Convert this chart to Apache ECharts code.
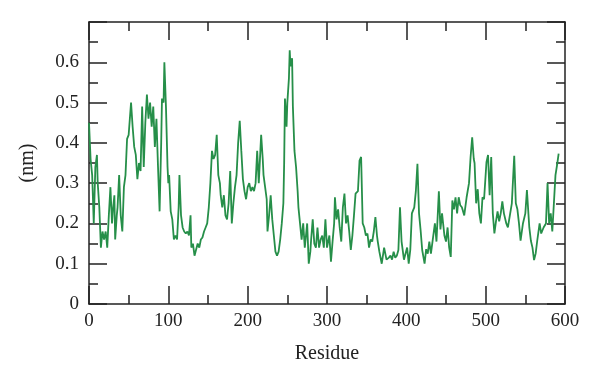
<!DOCTYPE html>
<html>
<head>
<meta charset="utf-8">
<script src="https://cdn.jsdelivr.net/npm/echarts@6/dist/echarts.min.js"></script>
<style>html,body{margin:0;padding:0;background:#fff}#c{width:600px;height:380px}</style>
</head>
<body>
<div id="c"></div>
<script>
const residues = [0,2,4,6,8,10,11,13,15,17,19,21,23,25,27,29,30,32,33,35,36,38,40,42,44,46,48,50,53,55,57,59,61,63,65,67,69,71,73,75,77,79,81,83,85,87,89,91,92,94,95,97,99,100,101,103,105,107,109,111,113,114,116,118,120,122,124,126,128,129,131,133,135,137,139,141,143,145,147,149,151,153,155,157,159,161,163,165,166,168,170,172,174,176,178,180,182,184,186,188,190,192,194,196,198,200,202,204,206,208,210,212,214,216,217,219,220,222,224,225,227,229,231,233,235,237,239,241,243,245,246,247,249,250,252,253,254,256,257,259,261,263,264,266,268,270,272,274,275,277,279,280,282,284,286,288,290,292,294,296,298,300,301,303,305,307,309,310,312,314,316,318,320,322,324,326,328,330,332,334,336,338,339,341,343,345,347,349,351,353,355,357,359,361,363,364,366,369,372,375,378,380,382,384,386,388,390,392,394,397,399,401,403,405,407,410,412,414,416,418,420,423,425,427,429,431,433,436,438,441,443,445,448,450,452,454,456,458,460,462,464,466,468,470,473,476,479,481,483,485,486,488,490,492,494,496,498,501,503,505,507,509,511,513,515,517,519,521,523,526,528,530,533,536,538,540,542,544,547,550,552,555,557,559,561,563,565,568,570,573,576,578,580,582,584,586,588,590,592];
const rmsf = [0.45,0.36,0.32,0.20,0.34,0.37,0.30,0.24,0.14,0.18,0.16,0.18,0.14,0.22,0.29,0.20,0.23,0.27,0.16,0.22,0.24,0.32,0.22,0.18,0.29,0.32,0.41,0.42,0.50,0.44,0.39,0.37,0.31,0.35,0.33,0.49,0.34,0.45,0.52,0.46,0.50,0.44,0.49,0.39,0.46,0.34,0.23,0.40,0.51,0.50,0.60,0.49,0.34,0.30,0.32,0.23,0.21,0.16,0.17,0.16,0.24,0.32,0.22,0.19,0.18,0.175,0.18,0.17,0.22,0.14,0.15,0.12,0.12,0.15,0.14,0.16,0.165,0.18,0.19,0.20,0.24,0.30,0.38,0.36,0.37,0.42,0.32,0.30,0.27,0.24,0.27,0.22,0.21,0.25,0.33,0.20,0.25,0.29,0.32,0.40,0.455,0.38,0.31,0.28,0.26,0.29,0.30,0.28,0.29,0.28,0.30,0.38,0.30,0.38,0.42,0.36,0.32,0.29,0.26,0.18,0.22,0.27,0.21,0.17,0.13,0.12,0.13,0.16,0.20,0.25,0.35,0.51,0.44,0.50,0.56,0.63,0.59,0.61,0.49,0.38,0.34,0.28,0.24,0.20,0.16,0.20,0.14,0.18,0.20,0.10,0.13,0.16,0.21,0.15,0.14,0.19,0.14,0.16,0.17,0.14,0.21,0.14,0.15,0.17,0.105,0.155,0.20,0.265,0.21,0.235,0.19,0.155,0.24,0.274,0.20,0.22,0.18,0.134,0.17,0.22,0.274,0.27,0.28,0.356,0.365,0.20,0.19,0.17,0.175,0.14,0.16,0.155,0.18,0.216,0.17,0.155,0.13,0.10,0.14,0.11,0.115,0.12,0.11,0.13,0.115,0.12,0.134,0.24,0.155,0.11,0.11,0.14,0.10,0.135,0.225,0.24,0.28,0.348,0.225,0.183,0.134,0.10,0.136,0.125,0.155,0.125,0.155,0.20,0.155,0.28,0.185,0.225,0.17,0.155,0.19,0.14,0.117,0.257,0.235,0.265,0.225,0.265,0.245,0.24,0.22,0.265,0.30,0.365,0.414,0.36,0.35,0.25,0.285,0.225,0.20,0.265,0.26,0.352,0.37,0.27,0.365,0.225,0.175,0.205,0.23,0.205,0.225,0.255,0.225,0.20,0.19,0.19,0.25,0.368,0.25,0.235,0.20,0.157,0.20,0.225,0.283,0.19,0.157,0.14,0.109,0.125,0.157,0.20,0.175,0.19,0.20,0.30,0.20,0.225,0.18,0.25,0.32,0.345,0.373];
const xTitle = 'Residue';
const yTitle = '(nm)';

const points = residues.map((r, i) => [r, rmsf[i]]);
const font = 'Liberation Serif';
const axisCol = '#222';
const lineStyle = { color: axisCol, width: 1.5 };

function xAx(pos, showLabel) {
  return {
    type: 'value', position: pos, min: 0, max: 600, interval: 100,
    name: showLabel ? xTitle : '', nameLocation: 'middle', nameGap: 40,
    nameTextStyle: { fontFamily: font, fontSize: 20, color: '#222' },
    axisLine: { show: true, onZero: false, lineStyle },
    axisTick: { show: true, inside: true, length: 18, lineStyle },
    minorTick: { show: true, splitNumber: 2, length: 9, lineStyle },
    axisLabel: { show: showLabel, margin: 8, fontFamily: font, fontSize: 19, color: '#222' },
    splitLine: { show: false }, minorSplitLine: { show: false }
  };
}
function yAx(pos, showLabel) {
  return {
    type: 'value', position: pos, min: 0, max: 0.7, interval: 0.1,
    name: showLabel ? yTitle : '', nameLocation: 'middle', nameGap: 51,
    nameTextStyle: { fontFamily: font, fontSize: 20, color: '#222' },
    axisLine: { show: true, onZero: false, lineStyle },
    axisTick: { show: true, inside: true, length: 18, lineStyle },
    minorTick: { show: true, splitNumber: 2, length: 9, lineStyle },
    axisLabel: {
      show: showLabel, margin: 10, fontFamily: font, fontSize: 19, color: '#222',
      formatter: v => v > 0.65 ? '' : (v === 0 ? '0' : v.toFixed(1))
    },
    splitLine: { show: false }, minorSplitLine: { show: false }
  };
}

const chart = echarts.init(document.getElementById('c'), null, { renderer: 'canvas' });
chart.setOption({
  animation: false,
  backgroundColor: '#fff',
  grid: { left: 89, right: 35, top: 22, bottom: 76 },
  xAxis: [xAx('bottom', true), xAx('top', false)],
  yAxis: [yAx('left', true), yAx('right', false)],
  series: [{
    type: 'line', data: points, xAxisIndex: 0, yAxisIndex: 0,
    showSymbol: false, symbol: 'none',
    lineStyle: { color: '#268f49', width: 1.8 }
  }]
});
</script>
</body>
</html>
